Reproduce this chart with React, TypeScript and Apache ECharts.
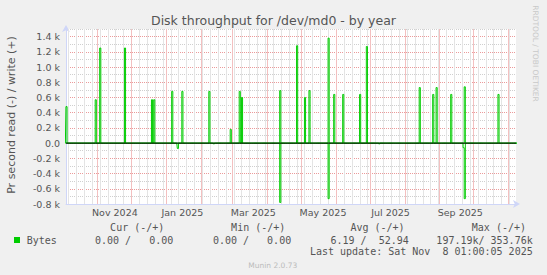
import React, { useEffect, useRef } from "react";
import * as echarts from "echarts";

// ---- data ----
const rangeStart = "2024-10-04T01:00:05Z";
const rangeEnd = "2025-11-08T01:00:05Z";

// daily write rate (bytes/s), days not listed are 0
const writeDays = [
  "2024-10-04", "2024-10-30", "2024-11-03", "2024-11-25", "2024-12-19", "2024-12-21",
  "2025-01-06", "2025-01-15", "2025-02-08", "2025-02-27", "2025-03-07", "2025-03-09",
  "2025-04-12", "2025-04-27", "2025-05-04", "2025-05-08", "2025-05-25", "2025-05-30",
  "2025-06-07", "2025-06-22", "2025-06-28", "2025-08-14", "2025-08-26", "2025-08-29",
  "2025-09-11", "2025-09-23", "2025-10-23",
];
const writeBytes = [
  480, 570, 1250, 1250, 570, 570,
  680, 680, 680, 180, 680, 600,
  690, 1280, 600, 690, 1380, 640,
  640, 640, 1270, 730, 640, 730,
  640, 740, 640,
];
// daily read rate (bytes/s), drawn downwards
const readDays = ["2025-01-11", "2025-02-12", "2025-04-12", "2025-05-25", "2025-07-09", "2025-09-22", "2025-09-23"];
const readBytes = [70, 10, 780, 730, 10, 60, 730];

const monthLines = [
  "2024-11-01", "2024-12-01", "2025-01-01", "2025-02-01", "2025-03-01", "2025-04-01",
  "2025-05-01", "2025-06-01", "2025-07-01", "2025-08-01", "2025-09-01", "2025-10-01", "2025-11-01",
];
const firstWeekLine = "2024-10-06";
const tickLabelDays = ["2024-11-16", "2025-01-15", "2025-03-19", "2025-05-20", "2025-07-19", "2025-09-19"];
const tickLabels = ["Nov 2024", "Jan 2025", "Mar 2025", "May 2025", "Jul 2025", "Sep 2025"];

const titleText = "Disk throughput for /dev/md0 - by year";
const yName = "Pr second read (-) / write (+)";
const legendName = "Bytes";
const legendHeaders = ["Cur (-/+)", "Min (-/+)", "Avg (-/+)", "Max (-/+)"];
const legendValues = ["0.00 /   0.00", "0.00 /   0.00", "6.19 /  52.94", "197.19k/ 353.76k"];
const lastUpdate = "Last update: Sat Nov  8 01:00:05 2025";
const footer = "Munin 2.0.73";
const watermark = "RRDTOOL / TOBI OETIKER";

const DAY = 86400000;
const GREEN = "#00cc00";
const TXT = "#555555";
const SANS = "DejaVu Sans";
const MONO = "DejaVu Sans Mono";
const MAJOR = "#eb9a9a";
const MINOR = "#cfcfcf";
const MAJOR_V = "#f3c0c0";
const MINOR_V = "#e4e4e4";

export default function App() {
  const ref = useRef<HTMLDivElement>(null);
  useEffect(() => {
    document.body.style.margin = "0";
    document.body.style.background = "#f0f0f0";
    const chart = echarts.init(ref.current!, null, { renderer: "svg" });
    const t0 = Date.parse(rangeStart);
    const t1 = Date.parse(rangeEnd);
    const wMap = new Map(writeDays.map((d, i) => [d, writeBytes[i]] as [string, number]));
    const rMap = new Map(readDays.map((d, i) => [d, readBytes[i]] as [string, number]));
    const writeData: [number, number][] = [];
    const readData: [number, number][] = [];
    for (let t = Date.parse("2024-10-03T00:00:00Z"); t < t1 + DAY; t += DAY) {
      const key = new Date(t).toISOString().slice(0, 10);
      writeData.push([t + DAY / 2, wMap.get(key) ?? 0]);
      readData.push([t + DAY / 2, -(rMap.get(key) ?? 0)]);
    }
    const labelTs = tickLabelDays.map((d) => Date.parse(d + "T12:00:00Z"));
    const gridData: [number, number][] = [];
    for (let t = Date.parse(firstWeekLine + "T00:00:00Z"); t < t1; t += 7 * DAY) gridData.push([t, 0]);
    monthLines.forEach((d) => gridData.push([Date.parse(d + "T00:00:00Z"), 1]));

    const legendTexts: any[] = [];
    const headerRight = [164.3, 285.3, 404.6, 526];
    const valueRight = [173.3, 291.2, 408.8, 532.7];
    legendHeaders.forEach((h, i) =>
      legendTexts.push({ type: "text", x: headerRight[i], y: 227.7, style: { text: h, fontFamily: MONO, fontSize: 10, fill: TXT, textAlign: "right", textVerticalAlign: "middle" } })
    );
    legendValues.forEach((v, i) =>
      legendTexts.push({ type: "text", x: valueRight[i], y: 240, style: { text: v, fontFamily: MONO, fontSize: 10, fill: TXT, textAlign: "right", textVerticalAlign: "middle" } })
    );

    chart.setOption({
      animation: false,
      backgroundColor: "#f0f0f0",
      grid: { left: 66, right: 31, top: 29, bottom: 71, show: true, backgroundColor: "#ffffff", borderWidth: 0 },
      xAxis: {
        type: "value",
        min: t0,
        max: t1,
        axisLine: { show: true, onZero: false, lineStyle: { color: "#cfd6f8", width: 1 }, symbol: ["none", "arrow"], symbolSize: [6, 7], symbolOffset: [0, 4] },
        axisTick: { show: false },
        splitLine: { show: false },
        axisLabel: {
          customValues: labelTs,
          formatter: (v: number) => {
            const i = labelTs.findIndex((x) => Math.abs(x - v) < DAY);
            return i >= 0 ? tickLabels[i] : "";
          },
          color: TXT,
          fontSize: 9.5,
          fontFamily: SANS,
          margin: 3,
          hideOverlap: false,
          showMinLabel: true,
          showMaxLabel: true,
        },
      },
      yAxis: {
        type: "value",
        min: -800,
        max: 1500,
        interval: 100,
        axisLine: { show: true, onZero: false, lineStyle: { color: "#cfd6f8", width: 1 }, symbol: ["none", "arrow"], symbolSize: [6, 7], symbolOffset: [0, 4] },
        axisTick: { show: false },
        axisLabel: {
          formatter: (v: number) => {
            if (Math.round(v) % 200 !== 0) return "";
            if (v === 0) return "0.0";
            return (v / 1000).toFixed(1) + " k";
          },
          color: TXT,
          fontSize: 9.5,
          fontFamily: SANS,
          margin: 6,
          showMaxLabel: false,
        },
        splitLine: { show: true, lineStyle: { color: [MAJOR, MINOR], type: "dotted", width: 1 } },
      },
      series: [
        {
          type: "custom",
          data: gridData,
          z: 2,
          renderItem: (params: any, api: any) => {
            const cs = params.coordSys;
            const x = Math.round(api.coord([api.value(0), 0])[0]);
            const major = api.value(1) === 1;
            const yTop = Math.ceil(cs.y);
            const yBot = Math.floor(cs.y + cs.height);
            return {
              type: "rect",
              shape: { x: x, y: yTop, width: 1, height: yBot - yTop },
              style: { fill: major ? MAJOR_V : MINOR_V },
              z2: major ? 2 : 1,
            };
          },
        },
        {
          type: "line",
          name: "read",
          data: readData,
          step: "middle",
          symbol: "none",
          lineStyle: { color: GREEN, width: 1 },
          z: 3,
        },
        {
          type: "line",
          name: "write",
          data: writeData,
          step: "middle",
          symbol: "none",
          lineStyle: { color: GREEN, width: 1 },
          z: 3,
        },
        {
          type: "line",
          name: "zero",
          data: [[t0, 0], [t1, 0]],
          symbol: "none",
          lineStyle: { color: "#000000", width: 1 },
          z: 4,
        },
      ],
      graphic: [
        { type: "text", x: 273.5, y: 20, style: { text: titleText, fontFamily: SANS, fontSize: 12.5, fill: TXT, textAlign: "center", textVerticalAlign: "middle" } },
        { type: "text", x: 11.7, y: 115, rotation: Math.PI / 2, style: { text: yName, fontFamily: SANS, fontSize: 11, fill: TXT, textAlign: "center", textVerticalAlign: "middle" } },
        { type: "text", x: 535.7, y: 53.5, rotation: -Math.PI / 2, style: { text: watermark, fontFamily: SANS, fontSize: 7.5, fill: "#c8c8c8", textAlign: "center", textVerticalAlign: "middle" } },
        { type: "rect", shape: { x: 14, y: 237, width: 6, height: 6 }, style: { fill: GREEN } },
        { type: "text", x: 26.7, y: 240, style: { text: legendName, fontFamily: MONO, fontSize: 10, fill: TXT, textAlign: "left", textVerticalAlign: "middle" } },
        ...legendTexts,
        { type: "text", x: 532.7, y: 251.3, style: { text: lastUpdate, fontFamily: MONO, fontSize: 10, fill: TXT, textAlign: "right", textVerticalAlign: "middle" } },
        { type: "text", x: 272.8, y: 265.5, style: { text: footer, fontFamily: SANS, fontSize: 7.5, fill: "#bbbbbb", textAlign: "center", textVerticalAlign: "middle" } },
      ],
    });
    return () => chart.dispose();
  }, []);
  return <div ref={ref} style={{ position: "fixed", left: 0, top: 0, width: 547, height: 275 }} />;
}
